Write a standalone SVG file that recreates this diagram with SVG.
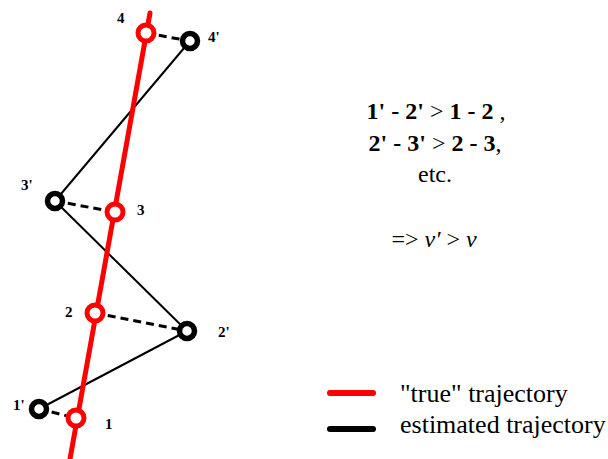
<svg xmlns="http://www.w3.org/2000/svg" width="608" height="459" viewBox="0 0 608 459">
<style>
.lbl{font-family:'Liberation Serif','DejaVu Serif',serif;font-weight:bold;font-size:15px;fill:#000}
.txt{font-family:'Liberation Serif','DejaVu Serif',serif;font-size:24px;fill:#000;text-anchor:middle}
.b{font-weight:bold}
.leg{font-family:'Liberation Serif','DejaVu Serif',serif;font-size:26px;fill:#000}
.est{fill:#fff;stroke:#000;stroke-width:5.5}
.tru{fill:#fff;stroke:#ff0000;stroke-width:5}
.solid{stroke:#000;stroke-width:2;fill:none}
.dash{stroke:#000;stroke-width:3;stroke-dasharray:8 5;fill:none}
</style>
<rect width="608" height="459" fill="#fff"/>
<g id="connectors">
<line class="solid" x1="39" y1="409" x2="187" y2="331"/>
<line class="solid" x1="187" y1="331" x2="55" y2="201"/>
<line class="solid" x1="55" y1="201" x2="190" y2="41"/>
<line class="dash" x1="39" y1="409" x2="76" y2="418"/>
<line class="dash" x1="95" y1="313" x2="187" y2="331"/>
<line class="dash" x1="55" y1="201" x2="115" y2="212"/>
<line class="dash" x1="146" y1="33" x2="190" y2="41"/>
<line id="true-trajectory" x1="150" y1="13" x2="70" y2="459" stroke="#ff0000" stroke-width="5" stroke-linecap="round"/>
</g>
<g id="node-1p"><circle class="est" cx="39" cy="409" r="7.5"/><text class="lbl" x="13" y="410">1'</text></g>
<g id="node-2p"><circle class="est" cx="187" cy="331" r="7.5"/><text class="lbl" x="218" y="337">2'</text></g>
<g id="node-3p"><circle class="est" cx="55" cy="201" r="7.5"/><text class="lbl" x="21" y="190">3'</text></g>
<g id="node-4p"><circle class="est" cx="190" cy="41" r="7.5"/><text class="lbl" x="208" y="42">4'</text></g>
<g id="node-1"><circle class="tru" cx="76" cy="418" r="8"/><text class="lbl" x="105" y="429">1</text></g>
<g id="node-2"><circle class="tru" cx="95" cy="313" r="8"/><text class="lbl" x="65" y="317">2</text></g>
<g id="node-3"><circle class="tru" cx="115" cy="212" r="8"/><text class="lbl" x="137" y="215">3</text></g>
<g id="node-4"><circle class="tru" cx="146" cy="33" r="8"/><text class="lbl" x="117" y="23">4</text></g>
<g id="text-block">
<text class="txt" x="436" y="119"><tspan class="b">1' - 2'</tspan> &gt; <tspan class="b">1 - 2</tspan> ,</text>
<text class="txt" x="435" y="151"><tspan class="b">2' - 3'</tspan> &gt; <tspan class="b">2 - 3</tspan>,</text>
<text class="txt" x="435" y="182">etc.</text>
<text class="txt" x="434" y="247">=&gt; <tspan font-style="italic">v′</tspan> &gt; <tspan font-style="italic">v</tspan></text>
</g>
<g id="legend">
<line x1="330" y1="393" x2="373" y2="393" stroke="#ff0000" stroke-width="6" stroke-linecap="round"/>
<line x1="330" y1="429" x2="373" y2="429" stroke="#000" stroke-width="6" stroke-linecap="round"/>
<text class="leg" x="400" y="402">"true" trajectory</text>
<text class="leg" x="400" y="433">estimated trajectory</text>
</g>
</svg>
